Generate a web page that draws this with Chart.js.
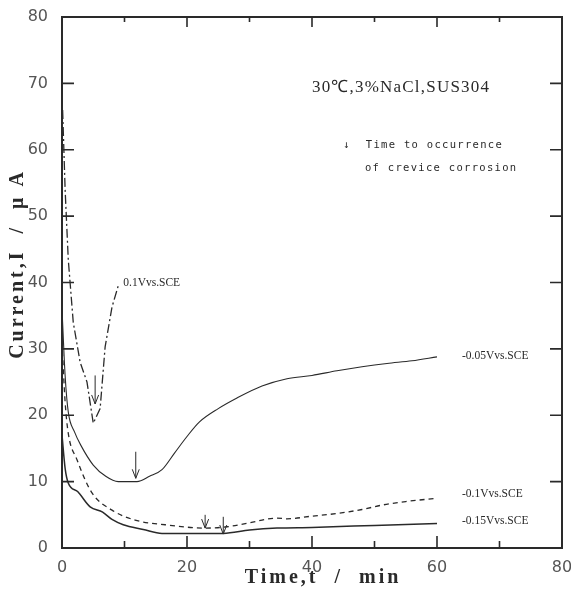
<!DOCTYPE html>
<html>
<head>
<meta charset="utf-8">
<script src="https://cdn.jsdelivr.net/npm/chart.js@4.4.1/dist/chart.umd.min.js"></script>
<style>
  html, body { margin: 0; padding: 0; background: #fff; }
  #grafica { display: block; }
</style>
</head>
<body>
<canvas id="grafica" width="571" height="598"></canvas>
<script>
// Datos (tiempo en min, corriente en uA)
const t01 = [0.1, 0.5, 1, 1.8, 2.9, 4, 5, 6.1, 6.9, 8, 9];
const i01 = [66, 54, 43.5, 34, 28, 25, 18.8, 21, 30.3, 36.3, 39.5];

const t005 = [0, 0.5, 1, 2, 3, 5, 7, 9, 12, 14, 16, 18, 20, 22, 25, 28, 32, 36, 40, 44, 48, 52, 56, 60];
const i005 = [36, 26, 20.5, 17.5, 15.5, 12.5, 10.8, 10, 10, 10.8, 11.8, 14.3, 16.8, 19, 21, 22.6, 24.4, 25.5, 26, 26.7, 27.3, 27.8, 28.2, 28.8];

const t010 = [0, 0.5, 1, 2.4, 4.8, 8, 11.7, 16.5, 22.9, 26.4, 30, 34.4, 36, 40, 44, 48, 51.4, 55, 60];
const i010 = [31, 22, 17.3, 13.3, 8.3, 5.7, 4.2, 3.5, 3, 3.2, 3.8, 4.5, 4.4, 4.8, 5.2, 5.8, 6.5, 7, 7.5];

const t015 = [0, 0.5, 1, 2.5, 4.5, 6.5, 8, 9.8, 13, 16, 20, 25.8, 30, 34.4, 40, 50, 60];
const i015 = [17, 12, 9.8, 8.5, 6.2, 5.4, 4.3, 3.5, 2.8, 2.2, 2.2, 2.2, 2.7, 3, 3.1, 3.4, 3.7];

// Flechas: tiempo de aparicion de la corrosion por rendija
const flechaT = [5.3, 11.8, 22.9, 25.8];
const flechaArriba = [26, 14.5, 5, 4.7];
const flechaAbajo = [21.7, 10.5, 3, 2.1];

// Etiquetas de cada curva
const etiquetas = ["0.1Vvs.SCE", "-0.05Vvs.SCE", "-0.1Vvs.SCE", "-0.15Vvs.SCE"];
const etiquetaX = [9.8, 64, 64, 64];
const etiquetaY = [40, 29, 8.2, 4];

const ticksX = [0, 10, 20, 30, 40, 50, 60, 70, 80];
const ticksY = [0, 10, 20, 30, 40, 50, 60, 70, 80];

const tinta = "#2a2a2a";

function puntos(ts, is) {
    return ts.map((t, k) => ({ x: t, y: is[k] }));
}

// Plugin para marco, marcas interiores, flechas y textos
const decoracion = {
    id: "decoracion",
    afterDatasetsDraw(chart) {
        const { ctx, chartArea: a, scales: { x, y } } = chart;
        ctx.save();
        ctx.strokeStyle = tinta;
        ctx.lineWidth = 2;
        ctx.strokeRect(a.left, a.top, a.right - a.left, a.bottom - a.top);

        // marcas hacia dentro
        ctx.lineWidth = 1.6;
        ctx.beginPath();
        ticksY.forEach(v => {
            const py = y.getPixelForValue(v);
            if (v === 0 || v === 80) return;
            ctx.moveTo(a.left, py); ctx.lineTo(a.left + 12, py);
            ctx.moveTo(a.right, py); ctx.lineTo(a.right - 12, py);
        });
        ticksX.forEach(v => {
            const px = x.getPixelForValue(v);
            if (v === 0 || v === 80) return;
            const largo = v % 20 === 0 ? 12 : 7;
            ctx.moveTo(px, a.bottom); ctx.lineTo(px, a.bottom - largo);
            ctx.moveTo(px, a.top); ctx.lineTo(px, a.top + largo - 2);
        });
        ctx.stroke();

        // flechas
        ctx.lineWidth = 1;
        flechaT.forEach((t, k) => {
            const px = x.getPixelForValue(t);
            const p1 = y.getPixelForValue(flechaArriba[k]);
            const p2 = y.getPixelForValue(flechaAbajo[k]);
            ctx.beginPath();
            ctx.moveTo(px, p1); ctx.lineTo(px, p2);
            ctx.moveTo(px - 3.5, p2 - 9); ctx.lineTo(px, p2); ctx.lineTo(px + 3.5, p2 - 9);
            ctx.stroke();
        });

        // etiquetas de curvas
        ctx.fillStyle = tinta;
        ctx.font = "11.5px 'Liberation Serif'";
        ctx.textBaseline = "middle";
        etiquetas.forEach((txt, k) => {
            ctx.fillText(txt, x.getPixelForValue(etiquetaX[k]), y.getPixelForValue(etiquetaY[k]));
        });

        // condiciones del ensayo
        ctx.font = "17px 'Liberation Serif'";
        ctx.letterSpacing = "1.2px";
        ctx.fillText("30\u2103,3%NaCl,SUS304", 312, 88);
        ctx.font = "10.5px 'DejaVu Sans Mono'";
        ctx.letterSpacing = "1.3px";
        ctx.fillText("\u2193  Time to occurrence", 343, 145);
        ctx.fillText("of crevice corrosion", 365, 168);

        // titulos de ejes
        ctx.letterSpacing = "3px";
        ctx.font = "bold 20px 'Liberation Serif'";
        ctx.textAlign = "center";
        ctx.fillText("Time,t  /  min", 323, 578);
        ctx.save();
        ctx.translate(18, 264);
        ctx.rotate(-Math.PI / 2);
        ctx.fillText("Current,I  /  \u03bc A", 0, 0);
        ctx.restore();
        ctx.restore();
    }
};

const lineaBase = {
    borderColor: tinta,
    borderWidth: 1.3,
    pointRadius: 0,
    fill: false,
    cubicInterpolationMode: "monotone"
};

new Chart(document.getElementById("grafica").getContext("2d"), {
    type: "line",
    data: {
        datasets: [
            Object.assign({}, lineaBase, { label: etiquetas[0], data: puntos(t01, i01), borderDash: [9, 3, 2, 3], cubicInterpolationMode: "default", tension: 0 }),
            Object.assign({}, lineaBase, { label: etiquetas[1], data: puntos(t005, i005), borderWidth: 1.1 }),
            Object.assign({}, lineaBase, { label: etiquetas[2], data: puntos(t010, i010), borderDash: [5, 4] }),
            Object.assign({}, lineaBase, { label: etiquetas[3], data: puntos(t015, i015), borderWidth: 1.5 })
        ]
    },
    options: {
        responsive: false,
        animation: false,
        layout: { padding: { left: 0, top: 17, right: 9, bottom: 0 } },
        plugins: { legend: { display: false }, tooltip: { enabled: false } },
        scales: {
            x: {
                type: "linear",
                min: 0, max: 80,
                afterFit(s) { s.height = 50; s.paddingLeft = 0; s.paddingRight = 0; },
                afterBuildTicks(s) { s.ticks = [0, 20, 40, 60, 80].map(v => ({ value: v })); },
                grid: { display: false },
                border: { display: false },
                ticks: { color: "#555", font: { family: "DejaVu Sans", size: 16 }, padding: 2, maxRotation: 0 }
            },
            y: {
                min: 0, max: 80,
                afterFit(s) { s.width = 62; s.paddingTop = 0; s.paddingBottom = 0; },
                afterBuildTicks(s) { s.ticks = ticksY.map(v => ({ value: v })); },
                grid: { display: false },
                border: { display: false },
                ticks: { color: "#555", font: { family: "DejaVu Sans", size: 16 }, padding: 6 }
            }
        }
    },
    plugins: [decoracion]
});
</script>
</body>
</html>
